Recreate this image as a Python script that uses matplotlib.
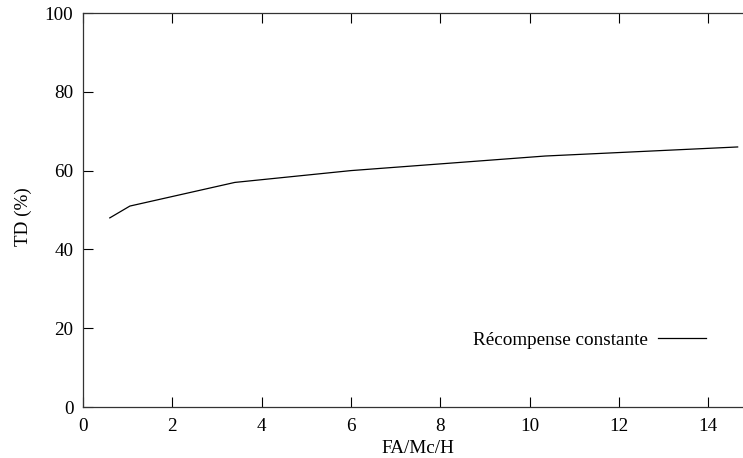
import matplotlib
matplotlib.use('Agg')
import matplotlib.pyplot as plt

# Data
fa_mc_h = [0.6, 1.05, 3.4, 6.0, 10.35, 14.66]
td_pct = [48.0, 51.0, 57.0, 60.0, 63.7, 66.0]
series_label = 'Récompense constante'

x_ticks = [0, 2, 4, 6, 8, 10, 12, 14]
y_ticks = [0, 20, 40, 60, 80, 100]

plt.rcParams['font.family'] = ['Liberation Serif', 'DejaVu Serif']
plt.rcParams['font.size'] = 13.8

fig = plt.figure(figsize=(7.43, 4.58), dpi=100)
ax = fig.add_axes([83 / 743, 51 / 458, 1 - 83 / 743, 394 / 458])

ax.plot(fa_mc_h, td_pct, color='black', linewidth=0.9, label=series_label)

ax.set_xlim(0, 14.78)
ax.set_ylim(0, 100)
ax.set_xticks(x_ticks)
ax.set_yticks(y_ticks)

ax.spines['right'].set_visible(False)
for side in ['left', 'bottom', 'top']:
    ax.spines[side].set_linewidth(0.9)
    ax.spines[side].set_color('#333333')

ax.tick_params(axis='x', direction='in', length=7, width=0.8, top=True, pad=8)
ax.tick_params(axis='y', direction='in', length=7, width=0.8, right=False, pad=7)

ax.set_xlabel('FA/Mc/H', labelpad=3.5)
ax.xaxis.label.set_x(0.507)
ax.set_ylabel('TD (%)')
ax.yaxis.set_label_coords(-0.078, 0.482)

ax.legend(loc='center right', bbox_to_anchor=(0.955, 0.17), frameon=False,
          markerfirst=False, handlelength=2.5, handletextpad=0.5,
          borderaxespad=0)

fig.savefig('out.png', dpi=100)
